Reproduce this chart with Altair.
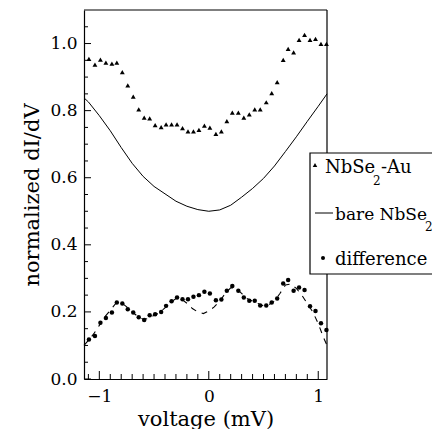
import altair as alt
import pandas as pd

# ---------------- data ----------------
volt = [-1.095, -1.04, -0.99, -0.94, -0.885, -0.84, -0.79, -0.74, -0.69, -0.64,
        -0.59, -0.54, -0.49, -0.435, -0.39, -0.34, -0.29, -0.24, -0.19, -0.14,
        -0.09, -0.04, 0.01, 0.065, 0.115, 0.165, 0.215, 0.27, 0.32, 0.37,
        0.42, 0.47, 0.525, 0.575, 0.625, 0.68, 0.725, 0.775, 0.825, 0.875,
        0.925, 0.975, 1.025, 1.075]

nbse2_au = [0.954, 0.937, 0.952, 0.943, 0.940, 0.943, 0.915, 0.875, 0.842, 0.804,
            0.779, 0.777, 0.757, 0.751, 0.759, 0.759, 0.759, 0.748, 0.738, 0.738,
            0.743, 0.755, 0.749, 0.731, 0.738, 0.769, 0.794, 0.794, 0.779, 0.789,
            0.804, 0.804, 0.825, 0.852, 0.885, 0.951, 0.984, 0.974, 1.011, 1.026,
            1.011, 1.014, 0.999, 0.999]

difference = [0.118, 0.128, 0.168, 0.182, 0.198, 0.228, 0.225, 0.208, 0.198, 0.184,
              0.176, 0.190, 0.193, 0.200, 0.218, 0.232, 0.243, 0.238, 0.238, 0.245,
              0.250, 0.260, 0.255, 0.235, 0.237, 0.263, 0.277, 0.263, 0.243, 0.233,
              0.233, 0.219, 0.219, 0.228, 0.240, 0.285, 0.295, 0.263, 0.273, 0.265,
              0.217, 0.203, 0.166, 0.146]

bare_v = [-1.14, -1.1, -1.0, -0.9, -0.8, -0.7, -0.6, -0.5, -0.4, -0.3, -0.2, -0.1,
          0.0, 0.1, 0.2, 0.3, 0.4, 0.5, 0.6, 0.7, 0.8, 0.9, 1.0, 1.08]
bare_val = [0.838, 0.826, 0.785, 0.740, 0.690, 0.643, 0.604, 0.574, 0.552, 0.530,
            0.515, 0.505, 0.500, 0.504, 0.518, 0.542, 0.568, 0.598, 0.635, 0.678,
            0.722, 0.768, 0.813, 0.850]

dash_v = [-1.14, -1.1, -1.05, -1.0, -0.95, -0.9, -0.85, -0.8, -0.75, -0.7, -0.65,
          -0.6, -0.55, -0.5, -0.45, -0.4, -0.35, -0.3, -0.25, -0.2, -0.15, -0.1,
          -0.05, 0.0, 0.05, 0.1, 0.15, 0.2, 0.25, 0.3, 0.35, 0.4, 0.45, 0.5, 0.55,
          0.6, 0.65, 0.7, 0.75, 0.8, 0.85, 0.9, 0.95, 1.0, 1.05, 1.08]
dash_val = [0.100, 0.115, 0.135, 0.160, 0.185, 0.205, 0.225, 0.228, 0.215, 0.200,
            0.187, 0.178, 0.180, 0.190, 0.198, 0.212, 0.228, 0.240, 0.238, 0.226,
            0.210, 0.200, 0.195, 0.203, 0.215, 0.232, 0.255, 0.272, 0.270, 0.255,
            0.240, 0.232, 0.225, 0.218, 0.222, 0.232, 0.255, 0.280, 0.283, 0.270,
            0.250, 0.225, 0.200, 0.165, 0.122, 0.100]

x_labels = [-1, 0, 1]
y_labels = [0.0, 0.2, 0.4, 0.6, 0.8, 1.0]
x_minor = [-1.1, -0.9, -0.8, -0.7, -0.6, -0.5, -0.4, -0.3, -0.2, -0.1,
           0.1, 0.2, 0.3, 0.4, 0.5, 0.6, 0.7, 0.8, 0.9]
y_minor = [0.05, 0.1, 0.15, 0.25, 0.3, 0.35, 0.45, 0.5, 0.55, 0.65, 0.7, 0.75,
           0.85, 0.9, 0.95, 1.05]

X_DOM = [-1.14, 1.08]
Y_DOM = [0.0, 1.1]
W, H = 243, 369
SERIF = "DejaVu Serif"

pts = pd.DataFrame({"v": volt, "au": nbse2_au, "d": difference})
bare = pd.DataFrame({"v": bare_v, "y": bare_val})
dash = pd.DataFrame({"v": dash_v, "y": dash_val})
one = pd.DataFrame({"k": [0]})

# tick tables: ticks sit on the bottom (y = 0) and left (x = left edge) frame
xt_minor = pd.DataFrame({"v": x_minor, "y0": [Y_DOM[0]] * len(x_minor)})
xt_major = pd.DataFrame({"v": x_labels, "y0": [Y_DOM[0]] * len(x_labels)})
yt_minor = pd.DataFrame({"yv": y_minor, "x0": [X_DOM[0]] * len(y_minor)})
yt_major = pd.DataFrame({"yv": y_labels, "x0": [X_DOM[0]] * len(y_labels)})

xs = alt.Scale(domain=X_DOM, nice=False, zero=False)
ys = alt.Scale(domain=Y_DOM, nice=False, zero=False)


def X(f):
    return alt.X(f, scale=xs, axis=None)


def Y(f):
    return alt.Y(f, scale=ys, axis=None)


# main axes (labels, titles, frame lines) on the bare NbSe2 curve
bare_line = alt.Chart(bare).mark_line(color="black", strokeWidth=1).encode(
    x=alt.X("v:Q", scale=xs, title="voltage (mV)",
            axis=alt.Axis(orient="bottom", values=x_labels, format="d",
                          ticks=False, grid=False,
                          domainColor="black", domainWidth=1.2,
                          labelFont=SERIF, labelFontSize=17, labelColor="black",
                          labelPadding=9, titleFont=SERIF, titleFontSize=21,
                          titleFontWeight="normal", titleColor="black",
                          titleBaseline="alphabetic", titleY=46)),
    y=alt.Y("y:Q", scale=ys, title="normalized dI/dV",
            axis=alt.Axis(orient="left", values=y_labels, format=".1f",
                          ticks=False, grid=False,
                          domainColor="black", domainWidth=1.2,
                          labelFont=SERIF, labelFontSize=17, labelColor="black",
                          labelPadding=7, titleFont=SERIF, titleFontSize=21,
                          titleFontWeight="normal", titleColor="black",
                          titleX=-46, titleY=H / 2, titleBaseline="alphabetic")))

dash_line = alt.Chart(dash).mark_line(color="black", strokeWidth=1.1,
                                      strokeDash=[6, 6]).encode(
    x=X("v:Q"), y=Y("y:Q"))

tri = alt.Chart(pts).mark_point(shape="triangle-up", filled=True, color="black",
                                size=24, opacity=1).encode(
    x=X("v:Q"), y=Y("au:Q"))

dots = alt.Chart(pts).mark_circle(color="black", size=20, opacity=1).encode(
    x=X("v:Q"), y=Y("d:Q"))

# inward ticks drawn as short stroked path symbols
UP = "M0,0L0,-1"
RIGHT = "M0,0L1,0"


def ticks(df, xf, yf, shape, size):
    return alt.Chart(df).mark_point(shape=shape, size=size, filled=False,
                                    stroke="black", strokeWidth=1,
                                    opacity=1).encode(x=X(xf), y=Y(yf))


xtick_min = ticks(xt_minor, "v:Q", "y0:Q", UP, 100)
xtick_maj = ticks(xt_major, "v:Q", "y0:Q", UP, 256)
ytick_min = ticks(yt_minor, "x0:Q", "yv:Q", RIGHT, 64)
ytick_maj = ticks(yt_major, "x0:Q", "yv:Q", RIGHT, 196)

top_rule = alt.Chart(one).mark_rule(color="black", strokeWidth=1.2).encode(
    x=alt.value(0), x2=alt.value(W), y=alt.value(0))
right_rule = alt.Chart(one).mark_rule(color="black", strokeWidth=1.2).encode(
    x=alt.value(W), y=alt.value(0), y2=alt.value(H))

# legend box (its right side runs off the page, as in the reference)
box = alt.Chart(one).mark_rect(fill="white", stroke="black", strokeWidth=1.2).encode(
    x=alt.value(226), x2=alt.value(380), y=alt.value(143), y2=alt.value(264))


def txt(label, px, py, size):
    return alt.Chart(pd.DataFrame({"t": [label]})).mark_text(
        align="left", baseline="alphabetic", font=SERIF, fontSize=size,
        color="black").encode(x=alt.value(px), y=alt.value(py), text="t:N")


leg_tri = alt.Chart(one).mark_point(shape="triangle-up", filled=True, color="black",
                                    size=20, opacity=1).encode(
    x=alt.value(231), y=alt.value(155))
leg_line = alt.Chart(one).mark_rule(color="black", strokeWidth=1).encode(
    x=alt.value(231), x2=alt.value(249), y=alt.value(203))
leg_dot = alt.Chart(one).mark_circle(color="black", size=16, opacity=1).encode(
    x=alt.value(239), y=alt.value(248))

legend = [
    box, leg_tri, leg_line, leg_dot,
    txt("NbSe", 241, 163, 18), txt("2", 289, 175, 12), txt("-Au", 297, 163, 18),
    txt("bare NbSe", 251, 210, 17), txt("2", 341, 221, 12),
    txt("difference", 251, 255, 18),
]

chart = alt.layer(
    bare_line, dash_line, tri, dots,
    xtick_min, xtick_maj, ytick_min, ytick_maj,
    top_rule, right_rule, *legend
).properties(
    width=W, height=H,
    autosize=alt.AutoSizeParams(type="none"),
    padding={"left": 76, "top": 2, "right": 105, "bottom": 50},
    background="white",
).resolve_axis(x="independent", y="independent").configure_view(stroke=None)

chart.save("out.html", embed_options={"renderer": "svg", "actions": False})
